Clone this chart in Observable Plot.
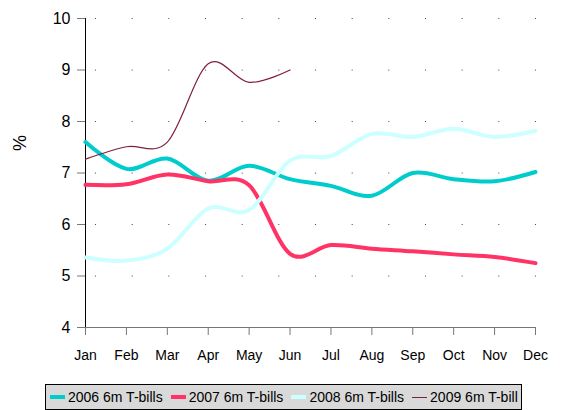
<!DOCTYPE html>
<html><head><meta charset="utf-8">
<script src="https://cdn.jsdelivr.net/npm/d3@7"></script>
<script src="https://cdn.jsdelivr.net/npm/@observablehq/plot@0.6"></script>
<style>
body{margin:0;background:#fff;font-family:"Liberation Sans",Arial,sans-serif;}
#chart{position:absolute;left:0;top:0;}
#legend{position:absolute;left:45px;top:384px;width:477px;height:26px;background:#d9d9d9;border:1px solid #000;box-sizing:border-box;display:flex;align-items:center;font-size:14px;color:#000;padding-left:4px;}
.item{display:flex;align-items:center;margin-right:8px;white-space:nowrap;}
.sw{display:inline-block;width:15px;margin-right:3px;}
</style></head>
<body><div id="chart"></div><div id="legend"></div>
<script>
const months = ["Jan","Feb","Mar","Apr","May","Jun","Jul","Aug","Sep","Oct","Nov","Dec"];
const seriesNames = ["2006 6m T-bills","2007 6m T-bills","2008 6m T-bills","2009 6m T-bill"];
const s2006 = [7.60, 7.08, 7.28, 6.85, 7.14, 6.88, 6.75, 6.56, 7.00, 6.88, 6.84, 7.02];
const s2007 = [6.77, 6.78, 6.97, 6.84, 6.76, 5.43, 5.60, 5.53, 5.48, 5.42, 5.37, 5.25];
const s2008 = [5.36, 5.30, 5.53, 6.31, 6.28, 7.24, 7.33, 7.76, 7.70, 7.86, 7.70, 7.82];
const s2009 = [7.27, 7.51, 7.60, 9.12, 8.76, 9.00];
const yTicks = [4,5,6,7,8,9,10];
const gridRows = [5,6,7,8,9,10];

const colors = ["#00cccc","#ff3366","#ccffff","#80203f"];
const widths = [4,4,4,1.2];
const allSeries = [s2006, s2007, s2008, s2009];

const rows = [];
allSeries.forEach((arr, si) => arr.forEach((v, i) => rows.push({series: seriesNames[si], m: i, v})));

// dotted grid columns (Excel-style spacing)
const gridCols = d3.range(13).map(i => 11 - i * 0.8963);
const gridDots = [];
gridRows.forEach(r => gridCols.forEach(c => gridDots.push({m: c, v: r})));

const chart = Plot.plot({
  width: 567,
  height: 372,
  marginLeft: 85,
  marginRight: 32,
  marginTop: 18,
  marginBottom: 45,
  style: {fontFamily: '"Liberation Sans", Arial, sans-serif', fontSize: "14px", background: "#fff", color: "#000"},
  x: {domain: [0, 11]},
  y: {domain: [4, 10]},
  marks: [
    Plot.dot(gridDots, {x: "m", y: "v", r: 0.6, fill: "#333", stroke: null}),
    Plot.axisX({ticks: d3.range(12), tickFormat: i => months[i], tickSize: 8, tickPadding: 15, stroke: "#777", label: null, fontSize: 14}),
    Plot.axisY({ticks: yTicks, tickFormat: d3.format("d"), tickSize: 8, tickPadding: 7, stroke: "#777", label: null, fontSize: 16}),
    Plot.text(["%"], {frameAnchor: "left", dx: -65, dy: -22, rotate: -90, fontSize: 18, fill: "#000"}),
    Plot.ruleY([4], {stroke: "#777"}),
    Plot.ruleX([0], {stroke: "#000"}),
    ...seriesNames.map((name, si) => Plot.line(rows.filter(d => d.series === name), {
      x: "m", y: "v", stroke: colors[si], strokeWidth: widths[si], curve: "cardinal"
    }))
  ]
});
document.getElementById("chart").appendChild(chart);

const legend = document.getElementById("legend");
seriesNames.forEach((name, si) => {
  const it = document.createElement("div");
  it.className = "item";
  const sw = document.createElement("span");
  sw.className = "sw";
  sw.style.height = (si === 3 ? 1 : 4) + "px";
  sw.style.background = colors[si];
  it.appendChild(sw);
  it.appendChild(document.createTextNode(name));
  legend.appendChild(it);
});
</script></body></html>
